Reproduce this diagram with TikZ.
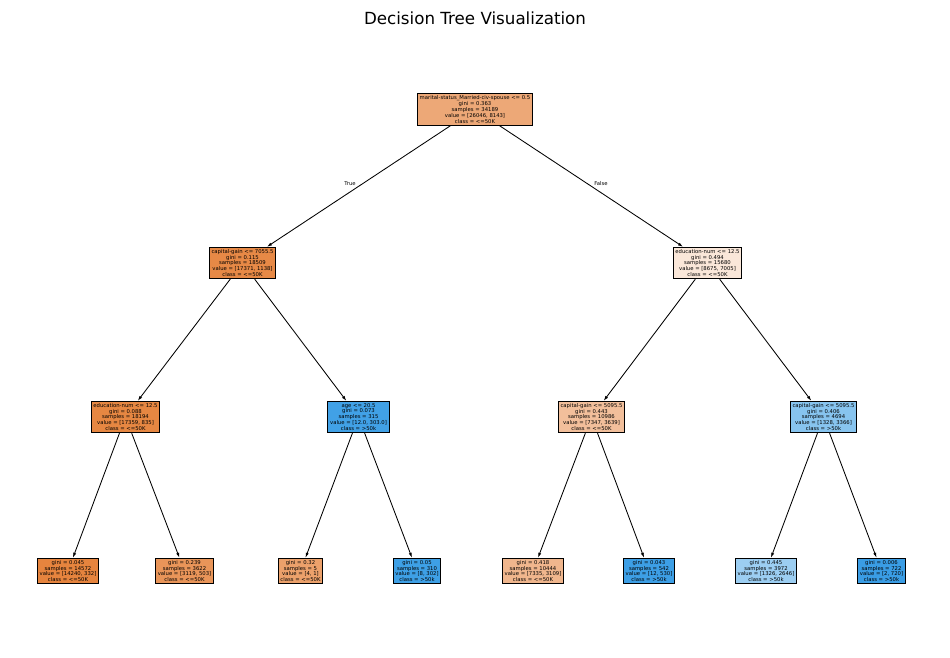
\documentclass[tikz,border=0pt]{standalone}
\usepackage{fontspec}
\setmainfont{DejaVu Sans}
\usetikzlibrary{arrows.meta}
\definecolor{c0}{RGB}{237,168,119}
\definecolor{c1}{RGB}{231,137,70}
\definecolor{c2}{RGB}{250,231,217}
\definecolor{c3}{RGB}{230,135,66}
\definecolor{c4}{RGB}{65,161,230}
\definecolor{c5}{RGB}{242,191,155}
\definecolor{c6}{RGB}{135,196,239}
\definecolor{c7}{RGB}{230,132,62}
\definecolor{c8}{RGB}{233,149,89}
\definecolor{c9}{RGB}{236,161,107}
\definecolor{c10}{RGB}{62,160,230}
\definecolor{c11}{RGB}{240,182,141}
\definecolor{c12}{RGB}{61,159,230}
\definecolor{c13}{RGB}{156,206,242}
\definecolor{c14}{RGB}{58,157,229}
\tikzset{
  tnode/.style={draw=black, line width=0.9pt, align=center, inner xsep=2.2pt, inner ysep=1.8pt,
    font=\fontsize{5.3}{5.95}\selectfont},
  edge/.style={draw=black, line width=0.85pt, -{Latex[length=5pt,width=3.2pt]}},
  elabel/.style={font=\fontsize{5.3}{6}\selectfont, inner sep=0pt}
}
\begin{document}
\begin{tikzpicture}[x=1pt,y=-1pt]
\useasboundingbox (0,0) rectangle (950,658);
\node[font=\fontsize{16.7}{20}\selectfont] (title) at (475,18) {Decision Tree Visualization};

\node[tnode, fill=c0] (n0) at (475,109.5) {marital-status\_Married-civ-spouse <= 0.5\\gini = 0.363\\samples = 34189\\value = [26046, 8143]\\class = <=50K};

\node[tnode, fill=c1] (n1) at (242.5,263) {capital-gain <= 7055.5\\gini = 0.115\\samples = 18509\\value = [17371, 1138]\\class = <=50K};
\node[tnode, fill=c2] (n2) at (707.5,263) {education-num <= 12.5\\gini = 0.494\\samples = 15680\\value = [8675, 7005]\\class = <=50K};

\node[tnode, fill=c3] (n3) at (125.5,417) {education-num <= 12.5\\gini = 0.088\\samples = 18194\\value = [17359, 835]\\class = <=50K};
\node[tnode, fill=c4] (n4) at (358.5,417) {age <= 20.5\\gini = 0.073\\samples = 315\\value = [12.0, 303.0]\\class = >50k};
\node[tnode, fill=c5] (n5) at (591.5,417) {capital-gain <= 5095.5\\gini = 0.443\\samples = 10986\\value = [7347, 3639]\\class = <=50K};
\node[tnode, fill=c6] (n6) at (823.5,417) {capital-gain <= 5095.5\\gini = 0.406\\samples = 4694\\value = [1328, 3366]\\class = >50k};

\node[tnode, fill=c7] (n7) at (68,571) {gini = 0.045\\samples = 14572\\value = [14240, 332]\\class = <=50K};
\node[tnode, fill=c8] (n8) at (184.5,571) {gini = 0.239\\samples = 3622\\value = [3119, 503]\\class = <=50K};
\node[tnode, fill=c9] (n9) at (300.5,571) {gini = 0.32\\samples = 5\\value = [4, 1]\\class = <=50K};
\node[tnode, fill=c10] (n10) at (417,571) {gini = 0.05\\samples = 310\\value = [8, 302]\\class = >50k};
\node[tnode, fill=c11] (n11) at (533,571) {gini = 0.418\\samples = 10444\\value = [7335, 3109]\\class = <=50K};
\node[tnode, fill=c12] (n12) at (649,571) {gini = 0.043\\samples = 542\\value = [12, 530]\\class = >50k};
\node[tnode, fill=c13] (n13) at (766,571) {gini = 0.445\\samples = 3972\\value = [1326, 2646]\\class = >50k};
\node[tnode, fill=c14] (n14) at (881.5,571) {gini = 0.006\\samples = 722\\value = [2, 720]\\class = >50k};

\draw[edge] (n0) -- (n1);
\draw[edge] (n0) -- (n2);
\draw[edge] (n1) -- (n3);
\draw[edge] (n1) -- (n4);
\draw[edge] (n2) -- (n5);
\draw[edge] (n2) -- (n6);
\draw[edge] (n3) -- (n7);
\draw[edge] (n3) -- (n8);
\draw[edge] (n4) -- (n9);
\draw[edge] (n4) -- (n10);
\draw[edge] (n5) -- (n11);
\draw[edge] (n5) -- (n12);
\draw[edge] (n6) -- (n13);
\draw[edge] (n6) -- (n14);

\node[elabel] (ltrue) at (350,184) {True};
\node[elabel] (lfalse) at (601,184) {False};
\end{tikzpicture}
\end{document}
